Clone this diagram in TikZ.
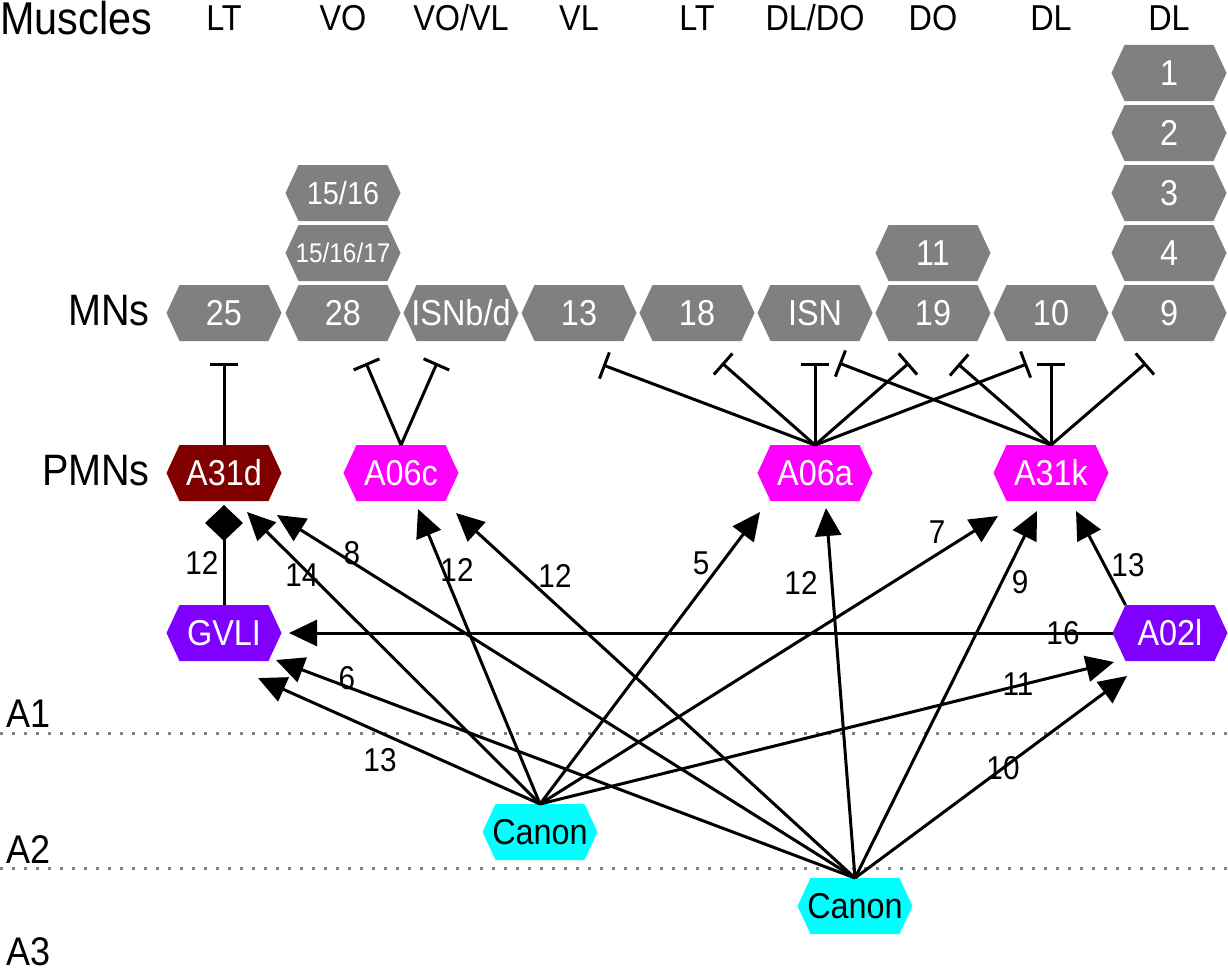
\documentclass[tikz,border=0pt]{standalone}
\usepackage{fontspec}
\setmainfont{Liberation Sans}[FakeStretch=0.9]
\usetikzlibrary{arrows.meta,calc}
\definecolor{mngray}{RGB}{128,128,128}
\definecolor{pmnred}{RGB}{128,0,0}
\definecolor{pmnmag}{RGB}{255,0,255}
\definecolor{pmnvio}{RGB}{128,0,255}
\definecolor{cancyan}{RGB}{0,255,255}
\tikzset{
  hexbase/.style={minimum width=115pt, minimum height=56pt, inner sep=0pt, outer sep=0pt,
    font=\fontsize{36}{42}\selectfont,
    path picture={\fill[#1] ([xshift=13pt]path picture bounding box.north west)
      -- ([xshift=-13pt]path picture bounding box.north east)
      -- (path picture bounding box.east)
      -- ([xshift=-13pt]path picture bounding box.south east)
      -- ([xshift=13pt]path picture bounding box.south west)
      -- (path picture bounding box.west) -- cycle;}},
  mn/.style={hexbase=mngray, text=white},
  mnsmall/.style={mn, font=\fontsize{32}{36}\selectfont},
  mntiny/.style={mn, font=\fontsize{27}{30}\selectfont},
  pred/.style={hexbase=pmnred, text=white},
  pmag/.style={hexbase=pmnmag, text=white},
  pvio/.style={hexbase=pmnvio, text=white},
  pcyan/.style={hexbase=cancyan, text=black},
  coltitle/.style={font=\fontsize{36}{42}\selectfont, inner sep=0pt},
  rowtitle/.style={font=\fontsize{44}{50}\selectfont, inner sep=0pt, anchor=east},
  segtitle/.style={font=\fontsize{40}{46}\selectfont, inner sep=0pt, anchor=west},
  elabel/.style={font=\fontsize{33}{38}\selectfont, inner sep=0pt},
  exc/.style={line width=3pt, -{Triangle[length=28pt,width=26pt]}},
  inh/.style={line width=3pt, -{Bar[width=28pt]}},
  dia/.style={line width=3pt, -{Diamond[length=36pt,width=38pt]}},
  segline/.style={mngray, line width=3pt, dash pattern=on 3pt off 9pt},
}
\begin{document}
\begin{tikzpicture}[x=1pt,y=-1pt]
\useasboundingbox (0,0) rectangle (1228,974);

% titles
\node[coltitle, anchor=west, font=\fontsize{46}{52}\selectfont] (tMus) at (0,18) {Muscles};
\node[coltitle] (t1) at (224,18) {LT};
\node[coltitle] (t2) at (343,18) {VO};
\node[coltitle] (t3) at (461,18) {VO/VL};
\node[coltitle] (t4) at (579,18) {VL};
\node[coltitle] (t5) at (697,18) {LT};
\node[coltitle] (t6) at (815,18) {DL/DO};
\node[coltitle] (t7) at (933,18) {DO};
\node[coltitle] (t8) at (1051,18) {DL};
\node[coltitle] (t9) at (1169,18) {DL};

\node[rowtitle] (rMN) at (150,311) {MNs};
\node[rowtitle] (rPMN) at (150,471) {PMNs};
\node[segtitle] (sA1) at (6,714) {A1};
\node[segtitle] (sA2) at (6,850) {A2};
\node[segtitle] (sA3) at (6,952) {A3};

% segment lines
\coordinate (d1a) at (0,733); \coordinate (d1b) at (1228,733);
\coordinate (d2a) at (0,868); \coordinate (d2b) at (1228,868);
\draw[segline] (d1a) -- (d1b);
\draw[segline] (d2a) -- (d2b);

% MNs
\node[mn] (m25) at (224,313) {25};
\node[mn] (m28) at (343,313) {28};
\node[mntiny] (m28b) at (343,253) {15/16/17};
\node[mnsmall] (m28c) at (343,193) {15/16};
\node[mn] (mISNbd) at (461,313) {ISNb/d};
\node[mn] (m13) at (579,313) {13};
\node[mn] (m18) at (697,313) {18};
\node[mn] (mISN) at (815,313) {ISN};
\node[mn] (m19) at (933,313) {19};
\node[mn] (m11) at (933,253) {11};
\node[mn] (m10) at (1051,313) {10};
\node[mn] (m9) at (1169,313) {9};
\node[mn] (m4) at (1169,253) {4};
\node[mn] (m3) at (1169,193) {3};
\node[mn] (m2) at (1169,133) {2};
\node[mn] (m1) at (1169,73) {1};

% PMNs
\node[pred] (A31d) at (224,473) {A31d};
\node[pmag] (A06c) at (401,473) {A06c};
\node[pmag] (A06a) at (815,473) {A06a};
\node[pmag] (A31k) at (1051,473) {A31k};
\node[pvio] (GVLI) at (224,633) {GVLI};
\node[pvio] (A02l) at (1170,633) {A02l};
\node[pcyan] (C1) at (540,832) {Canon};
\node[pcyan] (C2) at (855,906) {Canon};

% inhibitory connections
\draw[inh] (A31d.north) -- ($(m25.south)+(0,22)$);
\draw[inh] (A06c.north) -- ($(m28.south)+(23,22)$);
\draw[inh] (A06c.north) -- ($(mISNbd.south)+(-24,22)$);
\draw[inh] (A06a.north) -- ($(m13.south)+(24,24)$);
\draw[inh] (A06a.north) -- ($(m18.south)+(25,22)$);
\draw[inh] (A06a.north) -- ($(mISN.south)+(0,22)$);
\draw[inh] (A06a.north) -- ($(m19.south)+(-24,22)$);
\draw[inh] (A06a.north) -- ($(m10.south)+(-24,23)$);
\draw[inh] (A31k.north) -- ($(mISN.south)+(24,22)$);
\draw[inh] (A31k.north) -- ($(m19.south)+(25,23)$);
\draw[inh] (A31k.north) -- ($(m10.south)+(0,22)$);
\draw[inh] (A31k.north) -- ($(m9.south)+(-23,22)$);

% GVLI -> A31d (diamond)
\draw[dia] (GVLI.north) -- ($(A31d.south)+(0,4)$);

% excitatory connections
\draw[exc] (C1.north) -- ($(A31d)+(23,39)$);
\draw[exc] (C2.north) -- ($(A31d)+(53,42)$);
\draw[exc] (C1.north) -- ($(A06c)+(17,36)$);
\draw[exc] (C2.north) -- ($(A06c)+(55,40)$);
\draw[exc] (C1.north) -- ($(A06a)+(-55,39)$);
\draw[exc] (C2.north) -- ($(A06a)+(11,35)$);
\draw[exc] (C1.north) -- ($(A31k)+(-53,43)$);
\draw[exc] (C2.north) -- ($(A31k)+(-14,38)$);
\draw[exc] ([xshift=13pt]A02l.north west) -- ($(A31k)+(25,38)$);
\draw[exc] (A02l.west) -- ($(GVLI)+(65,0)$);
\draw[exc] (C2.north) -- ($(GVLI)+(52,27)$);
\draw[exc] (C1.north) -- ($(GVLI)+(34,45)$);
\draw[exc] (C1.north) -- ($(A02l)+(-56,29)$);
\draw[exc] (C2.north) -- ($(A02l)+(-43,43)$);

% edge labels
\node[elabel] (e1) at (202,563) {12};
\node[elabel] (e2) at (302,575) {14};
\node[elabel] (e3) at (352,553) {8};
\node[elabel] (e4) at (457,570) {12};
\node[elabel] (e5) at (555,576) {12};
\node[elabel] (e6) at (701,563) {5};
\node[elabel] (e7) at (801,583) {12};
\node[elabel] (e8) at (937,532) {7};
\node[elabel] (e9) at (1020,582) {9};
\node[elabel] (e10) at (1128,565) {13};
\node[elabel] (e11) at (1063,633) {16};
\node[elabel] (e12) at (347,678) {6};
\node[elabel] (e13) at (380,760) {13};
\node[elabel] (e14) at (1018,684) {11};
\node[elabel] (e15) at (1003,768) {10};
\end{tikzpicture}
\end{document}
